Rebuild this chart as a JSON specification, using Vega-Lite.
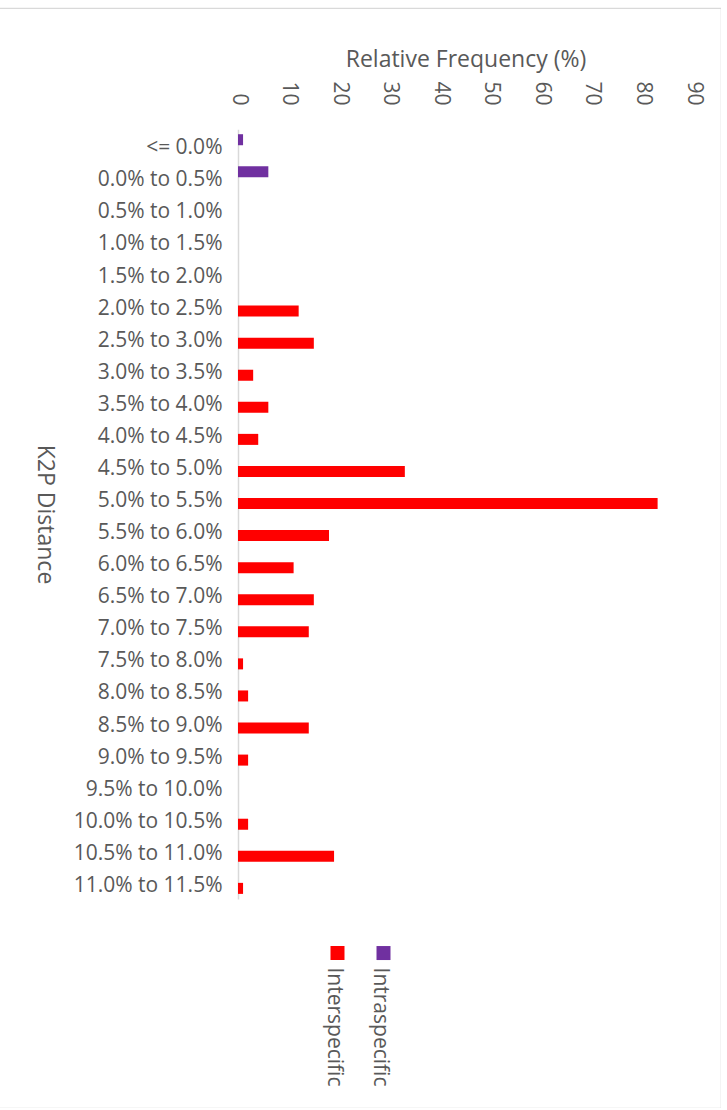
{
  "$schema": "https://vega.github.io/schema/vega-lite/v6.json",
  "autosize": {"type": "none"},
  "padding": {"left": -2, "top": 8, "right": 0, "bottom": 0},
  "width": 723,
  "height": 1100,
  "background": "#ffffff",
  "config": {
    "font": "Open Sans",
    "view": {"stroke": "#D9D9D9", "strokeWidth": 1.2}
  },
  "data": {
    "values": [
      {"k2p": "<= 0.0%", "series": "Intraspecific", "freq": 1},
      {"k2p": "0.0% to 0.5%", "series": "Intraspecific", "freq": 6},
      {"k2p": "2.0% to 2.5%", "series": "Interspecific", "freq": 12},
      {"k2p": "2.5% to 3.0%", "series": "Interspecific", "freq": 15},
      {"k2p": "3.0% to 3.5%", "series": "Interspecific", "freq": 3},
      {"k2p": "3.5% to 4.0%", "series": "Interspecific", "freq": 6},
      {"k2p": "4.0% to 4.5%", "series": "Interspecific", "freq": 4},
      {"k2p": "4.5% to 5.0%", "series": "Interspecific", "freq": 33},
      {"k2p": "5.0% to 5.5%", "series": "Interspecific", "freq": 83},
      {"k2p": "5.5% to 6.0%", "series": "Interspecific", "freq": 18},
      {"k2p": "6.0% to 6.5%", "series": "Interspecific", "freq": 11},
      {"k2p": "6.5% to 7.0%", "series": "Interspecific", "freq": 15},
      {"k2p": "7.0% to 7.5%", "series": "Interspecific", "freq": 14},
      {"k2p": "7.5% to 8.0%", "series": "Interspecific", "freq": 1},
      {"k2p": "8.0% to 8.5%", "series": "Interspecific", "freq": 2},
      {"k2p": "8.5% to 9.0%", "series": "Interspecific", "freq": 14},
      {"k2p": "9.0% to 9.5%", "series": "Interspecific", "freq": 2},
      {"k2p": "10.0% to 10.5%", "series": "Interspecific", "freq": 2},
      {"k2p": "10.5% to 11.0%", "series": "Interspecific", "freq": 19},
      {"k2p": "11.0% to 11.5%", "series": "Interspecific", "freq": 1}
    ]
  },
  "mark": {"type": "bar"},
  "encoding": {
    "y": {
      "field": "k2p",
      "type": "nominal",
      "scale": {
        "domain": ["<= 0.0%", "0.0% to 0.5%", "0.5% to 1.0%", "1.0% to 1.5%", "1.5% to 2.0%", "2.0% to 2.5%", "2.5% to 3.0%", "3.0% to 3.5%", "3.5% to 4.0%", "4.0% to 4.5%", "4.5% to 5.0%", "5.0% to 5.5%", "5.5% to 6.0%", "6.0% to 6.5%", "6.5% to 7.0%", "7.0% to 7.5%", "7.5% to 8.0%", "8.0% to 8.5%", "8.5% to 9.0%", "9.0% to 9.5%", "9.5% to 10.0%", "10.0% to 10.5%", "10.5% to 11.0%", "11.0% to 11.5%"],
        "range": [121.2, 890.9],
        "paddingInner": 0,
        "paddingOuter": 0
      },
      "axis": {
        "title": "K2P Distance",
        "titleFontSize": 23,
        "titleFontWeight": "normal",
        "titleColor": "#595959",
        "titleAngle": 90,
        "titleAlign": "center",
        "titleBaseline": "middle",
        "titleX": -194,
        "offset": -240,
        "domainColor": "#D9D9D9",
        "domainWidth": 1.5,
        "ticks": false,
        "tickSize": 0,
        "grid": false,
        "labelPadding": 16,
        "labelOffset": 3,
        "labelFontSize": 21,
        "labelColor": "#595959",
        "labelLimit": 0
      }
    },
    "yOffset": {
      "field": "series",
      "type": "nominal",
      "scale": {"domain": ["Intraspecific", "Interspecific"], "paddingInner": 0, "paddingOuter": 0.4545}
    },
    "x": {
      "field": "freq",
      "type": "quantitative",
      "scale": {"domain": [0, 90], "range": [240, 695], "nice": false, "zero": true},
      "axis": {
        "orient": "top",
        "title": "Relative Frequency (%)",
        "titleFontSize": 23,
        "titleFontWeight": "normal",
        "titleColor": "#595959",
        "titleBaseline": "middle",
        "titleY": -46,
        "offset": -97,
        "values": [0, 10, 20, 30, 40, 50, 60, 70, 80, 90],
        "labelAngle": 90,
        "labelFontSize": 21,
        "labelColor": "#595959",
        "labelPadding": 0,
        "ticks": false,
        "tickSize": 0,
        "domain": false,
        "grid": false
      }
    },
    "color": {
      "field": "series",
      "type": "nominal",
      "scale": {"domain": ["Interspecific", "Intraspecific"], "range": ["#FF0000", "#7030A0"]},
      "legend": {
        "title": null,
        "orient": "none",
        "direction": "horizontal",
        "legendX": 329,
        "legendY": 934,
        "symbolType": "square",
        "symbolSize": 196,
        "symbolStrokeWidth": 0,
        "symbolOpacity": 1,
        "labelFontSize": 21,
        "labelColor": "#595959",
        "columnPadding": 24,
        "encode": {
          "labels": {
            "update": {
              "angle": {"value": 90},
              "align": {"value": "left"},
              "baseline": {"value": "middle"},
              "x": {"value": 7},
              "y": {"value": 25}
            }
          }
        }
      }
    }
  }
}
